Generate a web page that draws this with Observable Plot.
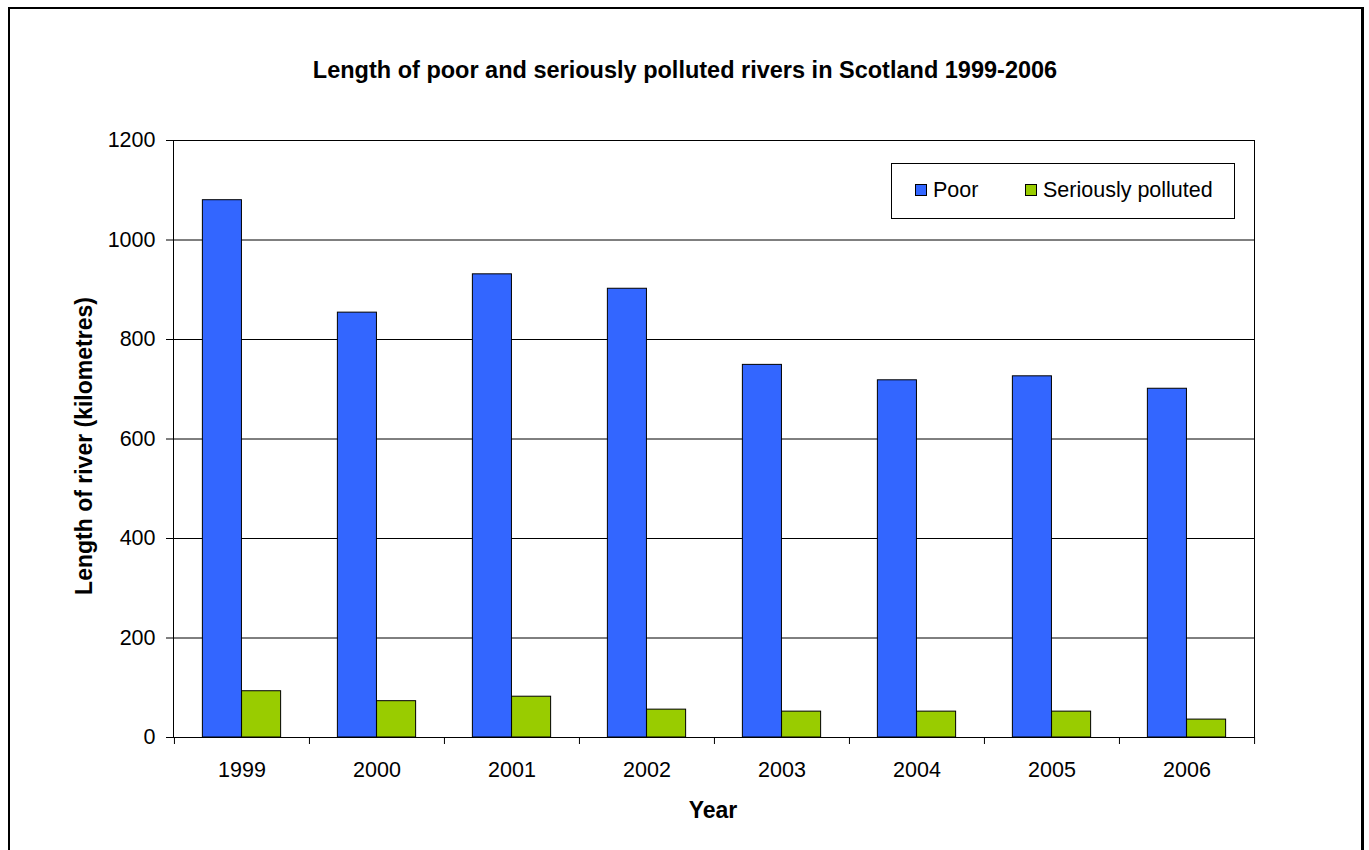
<!DOCTYPE html>
<html>
<head>
<meta charset="utf-8">
<script src="https://cdn.jsdelivr.net/npm/d3@7"></script>
<script src="https://cdn.jsdelivr.net/npm/@observablehq/plot@0.6"></script>
<style>
  html, body { margin: 0; padding: 0; background: #fff; }
  #wrap { position: relative; width: 1369px; height: 850px; overflow: hidden; font-family: Arial, "Liberation Sans", sans-serif; }
  #border { position: absolute; left: 8px; top: 7px; width: 1356px; height: 900px; box-sizing: border-box; border: 2px solid #000; border-right: 3px solid #000; pointer-events: none; }
  #legend { position: absolute; left: 891px; top: 163px; width: 344px; height: 56px; box-sizing: border-box; border: 1px solid #000; background: #fff; font-size: 21.5px; color: #000; }
  .item { position: absolute; top: 0; height: 52px; display: flex; align-items: center; }
  .sw { width: 10px; height: 10px; border: 1px solid #000; margin-right: 6px; }
  svg text { font-family: Arial, "Liberation Sans", sans-serif; }
</style>
</head>
<body>
<div id="wrap">
  <div id="chart"></div>
  <div id="legend"></div>
  <div id="border"></div>
</div>
<script>
const years = ["1999", "2000", "2001", "2002", "2003", "2004", "2005", "2006"];
const poor = [1080, 854, 931, 902, 749, 718, 726, 701];
const serious = [93, 73, 82, 56, 52, 52, 52, 36];
const seriesNames = ["Poor", "Seriously polluted"];
const seriesColors = ["#3366FF", "#99CC00"];
const yTicks = [0, 200, 400, 600, 800, 1000, 1200];
const title = "Length of poor and seriously polluted rivers in Scotland 1999-2006";
const xTitle = "Year";
const yTitle = "Length of river (kilometres)";

const W = 1369, H = 850;
const mL = 173, mR = 115, mT = 140, mB = 113;
const step = (W - mL - mR) / years.length;
const outer = step * 0.21;
const half = step / 2;

const rows = [];
years.forEach((y, i) => {
  rows.push({year: y, series: seriesNames[0], value: poor[i]});
  rows.push({year: y, series: seriesNames[1], value: serious[i]});
});

const chart = Plot.plot({
  width: W, height: H,
  marginLeft: mL, marginRight: mR, marginTop: mT, marginBottom: mB,
  style: {fontFamily: "Arial, 'Liberation Sans', sans-serif", fontSize: "21px", color: "#000", background: "#fff"},
  x: {domain: years, padding: 0, label: null},
  y: {domain: [0, 1200], label: null},
  color: {domain: seriesNames, range: seriesColors},
  marks: [
    Plot.gridY(yTicks, {stroke: "#000", strokeOpacity: 1, strokeWidth: 1}),
    Plot.barY(rows.filter(d => d.series === seriesNames[0]), {x: "year", y: "value", fill: "series", stroke: "#000", strokeWidth: 1, insetLeft: outer, insetRight: half}),
    Plot.barY(rows.filter(d => d.series === seriesNames[1]), {x: "year", y: "value", fill: "series", stroke: "#000", strokeWidth: 1, insetLeft: half, insetRight: outer}),
    Plot.frame({stroke: "#000", strokeWidth: 1}),
    Plot.axisY(yTicks, {tickSize: 7, tickPadding: 11, fontSize: 21.5, stroke: "#000", tickFormat: d => String(d), label: null}),
    Plot.axisX({tickSize: 0, tickPadding: 24, fontSize: 21.5, label: null}),
    Plot.axisX(years, {tickSize: 7, tickFormat: () => "", dx: -half, stroke: "#000", label: null}),
    Plot.axisX([years[years.length - 1]], {tickSize: 7, tickFormat: () => "", dx: half, stroke: "#000", label: null}),
    Plot.text([title], {text: d => d, frameAnchor: "top", lineAnchor: "middle", textAnchor: "middle", dy: -70, dx: -29, fontSize: 23.5, fontWeight: "bold", fill: "#000"}),
    Plot.text([xTitle], {text: d => d, frameAnchor: "bottom", lineAnchor: "middle", textAnchor: "middle", dy: 73, dx: -1, fontSize: 23, fontWeight: "bold", fill: "#000"}),
    Plot.text([yTitle], {text: d => d, frameAnchor: "left", lineAnchor: "middle", textAnchor: "middle", rotate: -90, dx: -89, dy: 7, fontSize: 23, fontWeight: "bold", fill: "#000"})
  ]
});
document.getElementById("chart").appendChild(chart);

const legend = document.getElementById("legend");
const lefts = [23, 133];
seriesNames.forEach((name, i) => {
  const it = document.createElement("div");
  it.className = "item";
  it.style.left = lefts[i] + "px";
  const sw = document.createElement("div");
  sw.className = "sw";
  sw.style.background = seriesColors[i];
  const tx = document.createElement("span");
  tx.textContent = name;
  it.appendChild(sw);
  it.appendChild(tx);
  legend.appendChild(it);
});
</script>
</body>
</html>
